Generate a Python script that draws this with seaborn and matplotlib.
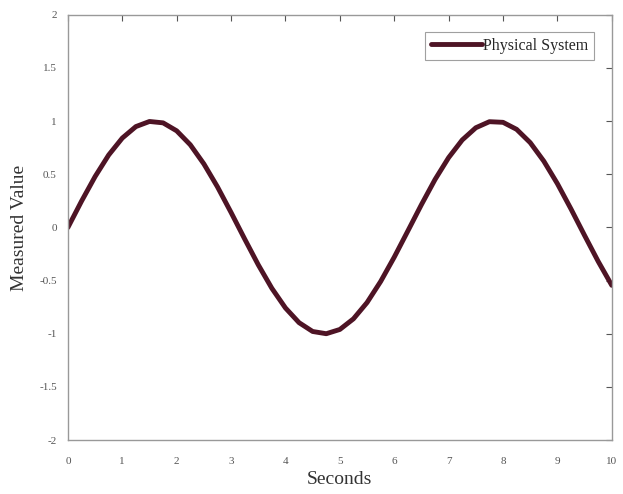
import numpy as np
import pandas as pd
import matplotlib
matplotlib.use('Agg')
import matplotlib.pyplot as plt
import seaborn as sns

# values, every 0.25 s
seconds = [0.0, 0.25, 0.5, 0.75, 1.0, 1.25, 1.5, 1.75, 2.0, 2.25, 2.5, 2.75,
           3.0, 3.25, 3.5, 3.75, 4.0, 4.25, 4.5, 4.75, 5.0, 5.25, 5.5, 5.75,
           6.0, 6.25, 6.5, 6.75, 7.0, 7.25, 7.5, 7.75, 8.0, 8.25, 8.5, 8.75,
           9.0, 9.25, 9.5, 9.75, 10.0]
measured = [0.0, 0.247, 0.479, 0.682, 0.841, 0.949, 0.997, 0.984, 0.909, 0.778,
            0.598, 0.382, 0.141, -0.108, -0.351, -0.572, -0.757, -0.895, -0.978,
            -0.999, -0.959, -0.859, -0.706, -0.508, -0.279, -0.033, 0.215, 0.451,
            0.657, 0.823, 0.938, 0.995, 0.989, 0.923, 0.798, 0.624, 0.412, 0.174,
            -0.075, -0.319, -0.544]
xticks = [0, 1, 2, 3, 4, 5, 6, 7, 8, 9, 10]
yticks = [-2, -1.5, -1, -0.5, 0, 0.5, 1, 1.5, 2]

df = pd.DataFrame({'Seconds': seconds, 'Measured Value': measured,
                   'series': 'Physical System'})

sns.set_style('white')
plt.rcParams['font.family'] = ['Liberation Serif', 'DejaVu Serif']

fig = plt.figure(figsize=(6.23, 4.94), dpi=100)
ax = fig.add_axes([0.109, 0.109, 0.873, 0.861])

sns.lineplot(data=df, x='Seconds', y='Measured Value', hue='series',
             palette=['#4e1425'], linewidth=3.5, ax=ax)
for ln in ax.get_lines():
    ln.set_solid_joinstyle('round')

ax.set_xlim(0, 10)
ax.set_ylim(-2, 2)
ax.set_xticks(xticks)
ax.set_yticks(yticks)
ax.set_xticklabels([str(t) for t in xticks])
ax.set_yticklabels([str(t) for t in yticks])
ax.tick_params(direction='in', top=True, right=True, length=4, width=0.8,
               labelsize=8, colors='#555555')
ax.tick_params(axis='x', pad=12)
ax.tick_params(axis='y', pad=8)
for s in ax.spines.values():
    s.set_color('#999999')
    s.set_linewidth(1.0)

ax.set_xlabel('Seconds', fontsize=14, color='#333333', labelpad=4)
ax.set_ylabel('Measured Value', fontsize=14, color='#333333', labelpad=8)

leg = ax.legend(loc='upper right', fontsize=11.5, frameon=True, fancybox=False,
                handlelength=3.2, handletextpad=0.1, borderpad=0.35,
                borderaxespad=1.1)
leg.get_frame().set_edgecolor('#888888')
leg.get_frame().set_linewidth(0.8)
for line in leg.get_lines():
    line.set_linewidth(3.5)

fig.savefig('out.png', dpi=100)
